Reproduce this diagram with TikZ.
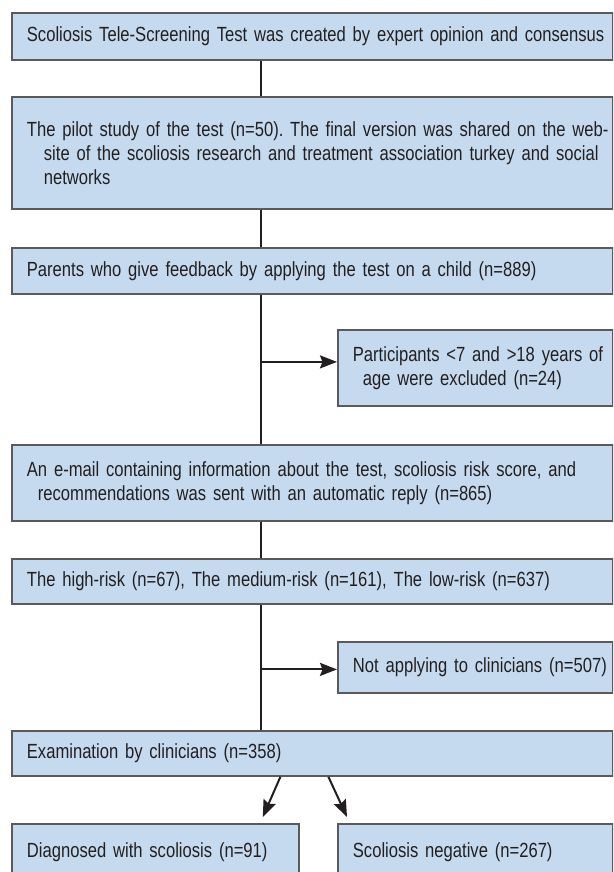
\documentclass[tikz,border=0pt]{standalone}
\usepackage{fontspec}
\setmainfont{Liberation Sans}[FakeStretch=0.81]
\usetikzlibrary{arrows.meta,positioning,calc}
\definecolor{BoxFill}{HTML}{C6DAEF}
\definecolor{BoxLine}{HTML}{5A5A5C}
\definecolor{Ink}{HTML}{231F20}
\frenchspacing
\hbadness=10000 \hfuzz=40pt
\tikzset{
  flowbox/.style={draw=BoxLine, fill=BoxFill, line width=1.8pt, anchor=north west,
    minimum width=601pt, text width=577pt, inner xsep=12pt, inner ysep=0pt,
    font=\fontsize{20.5}{24}\selectfont, text=Ink},
  sidebox/.style={flowbox, minimum width=275pt, text width=251pt},
  footbox/.style={flowbox, minimum width=287pt, text width=263pt},
  link/.style={draw=Ink, line width=2pt},
  arr/.style={link, -{Stealth[length=17pt,width=13pt,inset=2.5pt]}},
}
% one unbreakable text line, with an optional extra indent
\newcommand{\row}[2][0pt]{\hspace*{\dimexpr 3pt+#1\relax}\mbox{#2}}

\begin{document}
\begin{tikzpicture}[x=1pt,y=-1pt]
  \useasboundingbox (0,0) rectangle (613,872);
  \clip (0,0) rectangle (613,872);

  % main column
  \node[flowbox, minimum height=47pt] (b1) at (11,12)
    {\row{Scoliosis Tele-Screening Test was created by expert opinion and consensus}};
  \node[flowbox, minimum height=112pt] (b2) at (11,96)
    {\row{The pilot study of the test (n=50). The final version was shared on the web-}\newline
     \row[17pt]{site of the scoliosis research and treatment association turkey and social}\newline
     \row[17pt]{networks}};
  \node[flowbox, minimum height=46pt] (b3) at (11,247)
    {\row{Parents who give feedback by applying the test on a child (n=889)}};
  \node[sidebox, minimum height=76pt] (b4) at (337,329)
    {\row{Participants <7 and >18 years of}\newline \row[10pt]{age were excluded (n=24)}};
  \node[flowbox, minimum height=76pt] (b5) at (11,444)
    {\row{An e-mail containing information about the test, scoliosis risk score, and}\newline
     \row[11pt]{recommendations was sent with an automatic reply (n=865)}};
  \node[flowbox, minimum height=45pt] (b6) at (11,558)
    {\row{The high-risk (n=67), The medium-risk (n=161), The low-risk (n=637)}};
  \node[sidebox, minimum height=51pt] (b7) at (337,641)
    {\row{Not applying to clinicians (n=507)}};
  \node[flowbox, minimum height=45pt] (b8) at (11,730)
    {\row{Examination by clinicians (n=358)}};

  % outcomes
  \node[footbox, minimum height=56pt] (b9) at (11,823)
    {\row{Diagnosed with scoliosis (n=91)}};
  \node[sidebox, minimum height=56pt] (b10) at (337,823)
    {\row{Scoliosis negative (n=267)}};

  % connectors
  \coordinate (spine) at (261,0);
  \coordinate (x4) at ([yshift=6pt]b4.west);
  \coordinate (x7) at ([yshift=-2pt]b7.west);
  \draw[link] (b1.south -| spine) -- (b2.north -| spine);
  \draw[link] (b2.south -| spine) -- (b3.north -| spine);
  \draw[link] (b3.south -| spine) -- (b5.north -| spine);
  \draw[arr] (x4 -| spine) -- (x4);
  \draw[link] (b5.south -| spine) -- (b6.north -| spine);
  \draw[link] (b6.south -| spine) -- (b8.north -| spine);
  \draw[arr] (x7 -| spine) -- (x7);
  \draw[arr] ([xshift=-32pt]b8.south) -- ([xshift=-37pt,yshift=6pt]b9.north east);
  \draw[arr] ([xshift=16pt]b8.south) -- ([xshift=10pt,yshift=6pt]b10.north west);
\end{tikzpicture}
\end{document}
